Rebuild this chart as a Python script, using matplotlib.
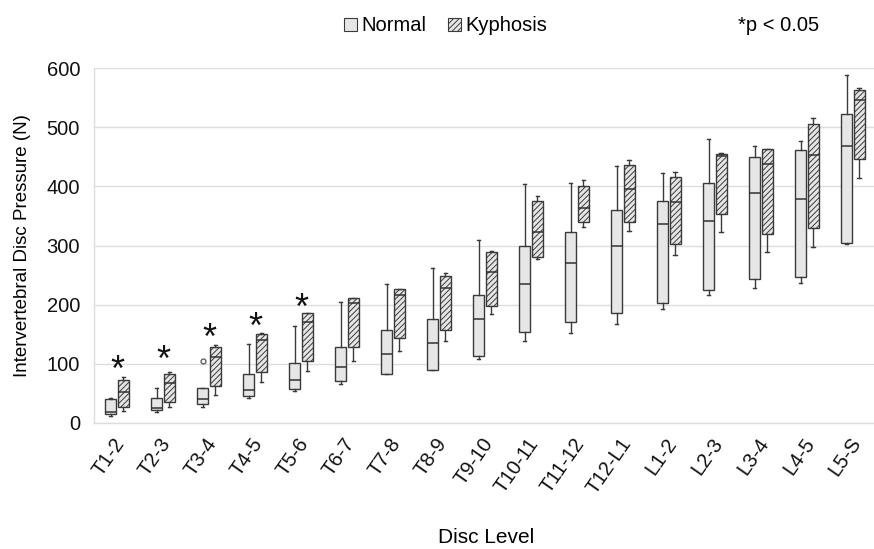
"""Intervertebral disc pressure by disc level: normal vs kyphosis box plots."""
import matplotlib
matplotlib.use("Agg")
import matplotlib.pyplot as plt
from matplotlib.patches import Patch

plt.rcParams["font.family"] = ["Liberation Sans", "DejaVu Sans"]
plt.rcParams["hatch.linewidth"] = 0.7
plt.rcParams["hatch.color"] = "#404040"

levels = ["T1-2", "T2-3", "T3-4", "T4-5", "T5-6", "T6-7", "T7-8", "T8-9", "T9-10",
          "T10-11", "T11-12", "T12-L1", "L1-2", "L2-3", "L3-4", "L4-5", "L5-S"]

# normal spine: whisker low, q1, median, q3, whisker high (N)
normal_lo = [12, 19, 27, 43, 54, 66, 82, 89, 108, 139, 152, 167, 193, 216, 228, 236, 303]
normal_q1 = [16, 22, 32, 45, 58, 71, 82, 89, 113, 153, 171, 186, 203, 225, 243, 246, 304]
normal_med = [19, 25, 40, 56, 73, 95, 117, 136, 175, 235, 270, 300, 336, 342, 389, 379, 468]
normal_q3 = [40, 42, 60, 82, 101, 128, 158, 175, 217, 300, 322, 360, 376, 405, 449, 462, 523]
normal_hi = [43, 60, 60, 134, 164, 205, 235, 262, 309, 404, 405, 434, 422, 480, 468, 476, 588]
normal_out = {2: [104]}

# kyphosis
kyph_lo = [21, 27, 47, 69, 88, 104, 121, 139, 185, 277, 331, 325, 284, 322, 289, 297, 414]
kyph_q1 = [27, 36, 63, 86, 105, 128, 143, 158, 197, 280, 339, 340, 302, 353, 320, 330, 446]
kyph_med = [52, 67, 111, 140, 171, 202, 216, 228, 256, 322, 364, 396, 374, 452, 438, 453, 546]
kyph_q3 = [73, 83, 128, 151, 186, 212, 226, 249, 289, 376, 400, 436, 416, 455, 463, 506, 563]
kyph_hi = [78, 86, 132, 152, 186, 212, 227, 253, 290, 383, 410, 445, 424, 456, 463, 516, 566]

# significance markers (level index, height)
sig_idx = [0, 1, 2, 3, 4]
sig_y = [105, 121, 159, 178, 210]


def make_stats(lo, q1, med, q3, hi, out):
    return [dict(whislo=lo[i], q1=q1[i], med=med[i], q3=q3[i], whishi=hi[i],
                 fliers=out.get(i, [])) for i in range(len(lo))]


fig = plt.figure(figsize=(8.74, 5.49), dpi=100, facecolor="white")
ax = fig.add_axes([94 / 874, 1 - 423 / 549, 1 - 94 / 874, (423 - 68) / 549])

edge = "#3a3a3a"
common = dict(widths=0.24, capwidths=0.07, patch_artist=True, manage_ticks=False,
              whiskerprops=dict(color=edge, lw=1), capprops=dict(color=edge, lw=1),
              medianprops=dict(color="#333333", lw=1.1),
              flierprops=dict(marker="o", ms=3.5, mfc="none", mec="#606060", mew=1))

pos = list(range(len(levels)))
ax.bxp(make_stats(normal_lo, normal_q1, normal_med, normal_q3, normal_hi, normal_out),
       positions=[p - 0.135 for p in pos],
       boxprops=dict(facecolor="#e6e6e6", edgecolor=edge, lw=1), **common)
ax.bxp(make_stats(kyph_lo, kyph_q1, kyph_med, kyph_q3, kyph_hi, {}),
       positions=[p + 0.135 for p in pos],
       boxprops=dict(facecolor="#e6e6e6", edgecolor=edge, lw=1, hatch="//////"), **common)

star_fs = 26
for i, y in zip(sig_idx, sig_y):
    # shift down so the glyph (which sits high in the em box) is centred on y
    ax.annotate("*", (i, y), xytext=(0, -0.55 * star_fs), textcoords="offset points",
                ha="center", va="baseline", fontsize=star_fs, color="#111111")

ax.set_xlim(-0.5, 16.46)
ax.set_ylim(0, 600)
ax.set_yticks(range(0, 601, 100))
# ticks are invisible; nudge them so the rotated labels end just right of centre
ax.set_xticks([p + 0.09 for p in pos])
ax.set_xticklabels(levels, rotation=55, ha="right", va="center", rotation_mode="anchor")
ax.tick_params(length=0, labelsize=14.5, colors="#111111")
ax.tick_params(axis="x", pad=12)
ax.tick_params(axis="y", pad=10)
ax.grid(axis="y", color="#dddddd", lw=1)
ax.set_axisbelow(True)
for s in ["top", "right"]:
    ax.spines[s].set_visible(False)
for s in ["left", "bottom"]:
    ax.spines[s].set_color("#dddddd")
    ax.spines[s].set_linewidth(1)

ax.set_ylabel("Intervertebral Disc Pressure (N)", fontsize=13.5, labelpad=11)
fig.text(0.556, 0.004, "Disc Level", ha="center", va="bottom", fontsize=15)

handles = [Patch(facecolor="#e6e6e6", edgecolor=edge, lw=0.8, label="Normal"),
           Patch(facecolor="#e6e6e6", edgecolor=edge, lw=0.8, hatch="//////", label="Kyphosis")]
fig.legend(handles=handles, loc="center", bbox_to_anchor=(0.51, 0.953), ncol=2, frameon=False,
           fontsize=14.5, handlelength=0.65, handleheight=0.65, handletextpad=0.2, columnspacing=1.1)
fig.text(0.891, 0.953, "*p < 0.05", ha="center", va="center", fontsize=14.5)

fig.savefig("out.png", dpi=100, facecolor="white")
